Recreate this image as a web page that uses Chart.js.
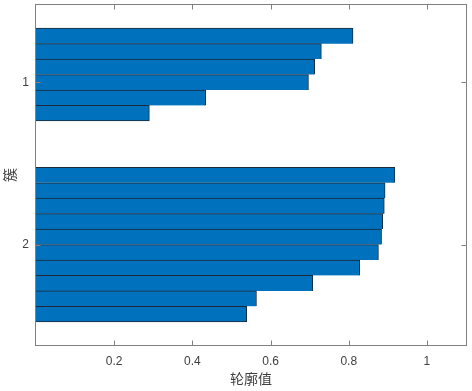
<!DOCTYPE html>
<html><head><meta charset="utf-8">
<script src="https://cdn.jsdelivr.net/npm/chart.js@4/dist/chart.umd.min.js"></script>
<style>html,body{margin:0;padding:0;background:#fff}#wrap{width:472px;height:391px}</style>
</head><body><div id="wrap"><canvas id="c" width="472" height="391"></canvas></div>
<script>
// ---- data ----
const clusterLabels = ['1', '2'];
const clusterTickPositions = [5, 15.5];
const cluster1Positions = [2, 3, 4, 5, 6, 7];
const cluster1Values = [0.811, 0.730, 0.713, 0.697, 0.434, 0.290];
const cluster2Positions = [11, 12, 13, 14, 15, 16, 17, 18, 19, 20];
const cluster2Values = [0.918, 0.893, 0.891, 0.887, 0.884, 0.876, 0.828, 0.708, 0.564, 0.539];
const xTickValues = [0.2, 0.4, 0.6, 0.8, 1];
const xAxisTitle = '轮廓值';
const yAxisTitle = '簇';

const barData = [];
cluster1Positions.forEach((p, i) => barData.push({ x: cluster1Values[i], y: p }));
cluster2Positions.forEach((p, i) => barData.push({ x: cluster2Values[i], y: p }));

const AXIS = '#808080';
const TEXT = '#404040';
const numFont = { family: '"Liberation Sans", Arial, sans-serif', size: 12 };
const cjkFont = '14px "Noto Sans CJK SC", sans-serif';

const frame = {
  id: 'frame',
  afterDatasetsDraw(chart) {
    const { ctx, chartArea: a, scales: { x, y } } = chart;
    ctx.save();
    ctx.strokeStyle = AXIS;
    ctx.lineWidth = 1;
    const L = a.left - 0.5, R = a.right + 0.5, T = a.top - 0.5, B = a.bottom + 0.5;
    ctx.strokeRect(L, T, R - L, B - T);
    ctx.beginPath();
    const tl = 5;
    x.ticks.forEach(t => {
      const px = Math.round(x.getPixelForValue(t.value)) + 0.5;
      ctx.moveTo(px, B); ctx.lineTo(px, B - tl);
      ctx.moveTo(px, T); ctx.lineTo(px, T + tl);
    });
    y.ticks.forEach(t => {
      const py = Math.round(y.getPixelForValue(t.value)) + 0.5;
      ctx.moveTo(L, py); ctx.lineTo(L + tl, py);
      ctx.moveTo(R, py); ctx.lineTo(R - tl, py);
    });
    ctx.stroke();
    // axis titles
    ctx.fillStyle = TEXT;
    ctx.font = cjkFont;
    ctx.textAlign = 'center';
    ctx.textBaseline = 'middle';
    ctx.fillText(xAxisTitle, (a.left + a.right) / 2, 379);
    ctx.translate(10, (a.top + a.bottom) / 2);
    ctx.rotate(-Math.PI / 2);
    ctx.fillText(yAxisTitle, 0, 0);
    ctx.restore();
  }
};

function zeroPad(s) { s.paddingTop = 0; s.paddingBottom = 0; s.paddingLeft = 0; s.paddingRight = 0; }

new Chart(document.getElementById('c'), {
  type: 'bar',
  data: {
    datasets: [{
      data: barData,
      backgroundColor: '#0072BD',
      borderColor: '#1b2a3a',
      borderWidth: ctx => {
        const i = ctx.dataIndex;
        const cur = barData[i], next = barData[i + 1];
        const lastInGroup = !next || next.y !== cur.y + 1;
        return { top: 1, right: 1, left: 0, bottom: lastInGroup ? 1 : 0 };
      },
      borderSkipped: false,
      barPercentage: 1,
      categoryPercentage: 1
    }]
  },
  options: {
    indexAxis: 'y',
    responsive: false,
    animation: false,
    devicePixelRatio: 1,
    layout: { padding: { top: 5, right: 6, left: 0, bottom: 0 } },
    plugins: { legend: { display: false }, tooltip: { enabled: false } },
    scales: {
      x: {
        type: 'linear', position: 'bottom', min: 0, max: 1.1,
        grid: { display: false, drawTicks: false },
        border: { display: false },
        afterBuildTicks: s => { s.ticks = xTickValues.map(v => ({ value: v })); },
        afterFit: s => { s.height = 46; zeroPad(s); },
        ticks: { color: TEXT, font: numFont, padding: 9, maxRotation: 0,
          callback: v => String(v) }
      },
      y: {
        type: 'linear', position: 'left', min: 0, max: 22, reverse: true,
        offset: false,
        grid: { display: false, drawTicks: false, offset: false },
        border: { display: false },
        afterBuildTicks: s => { s.ticks = clusterTickPositions.map(v => ({ value: v })); },
        afterFit: s => { s.width = 36; zeroPad(s); },
        ticks: { color: TEXT, font: numFont, padding: 7,
          callback: (v, i) => clusterLabels[i] }
      }
    }
  },
  plugins: [frame]
});
</script>
</body></html>
